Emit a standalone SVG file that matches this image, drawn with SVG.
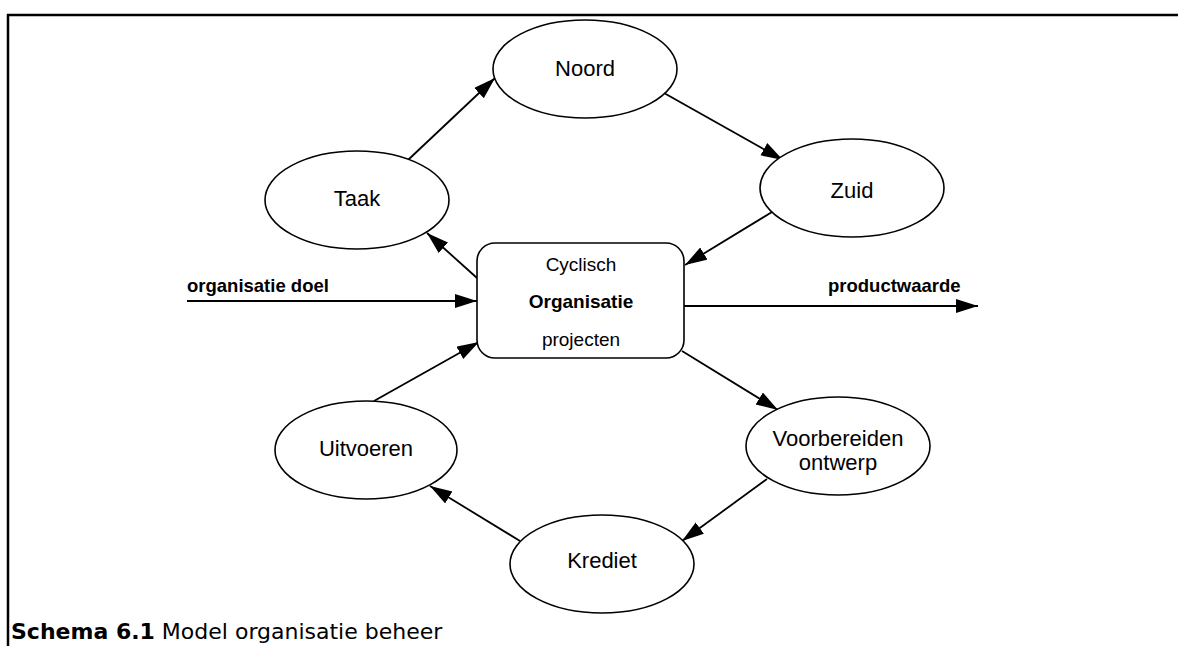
<svg xmlns="http://www.w3.org/2000/svg" width="1178" height="646" viewBox="0 0 1178 646">
<style>
.n{fill:#fff;stroke:#000;stroke-width:1.6}
.t{font-family:"Liberation Sans",Arial,sans-serif;font-size:22px;fill:#000;text-anchor:middle}
.b{font-family:"Liberation Sans",Arial,sans-serif;font-size:19px;fill:#000;text-anchor:middle}
.lbl{font-family:"Liberation Sans",Arial,sans-serif;font-size:18.5px;font-weight:bold;fill:#000}
.c{stroke:#000;stroke-width:1.8;fill:none;marker-end:url(#ah)}
.cap{font-family:"DejaVu Sans","Liberation Sans",sans-serif;font-size:22px;fill:#000}
</style>
<defs>
<marker id="ah" markerUnits="userSpaceOnUse" markerWidth="24" markerHeight="16" refX="22" refY="7" orient="auto">
<path d="M0,0 L22,7 L0,14 z" fill="#000"/>
</marker>
</defs>
<rect width="1178" height="646" fill="#fff"/>
<g id="frame">
<line x1="7" y1="15" x2="1178" y2="15" stroke="#000" stroke-width="2.5"/>
<line x1="8" y1="14" x2="8" y2="646" stroke="#000" stroke-width="2.5"/>
</g>
<g id="connectors">
<line class="c" x1="408" y1="160" x2="495" y2="78"/>
<line class="c" x1="664" y1="93" x2="783" y2="160"/>
<line class="c" x1="772" y1="212" x2="685" y2="265"/>
<line class="c" x1="477" y1="278" x2="427" y2="233"/>
<line class="c" x1="187" y1="301" x2="477" y2="301"/>
<line class="c" x1="684" y1="306" x2="978" y2="306"/>
<line class="c" x1="682" y1="351" x2="778" y2="410"/>
<line class="c" x1="767" y1="479" x2="682" y2="541"/>
<line class="c" x1="520" y1="541" x2="430" y2="486"/>
<line class="c" x1="374" y1="401" x2="479" y2="342"/>
</g>
<g id="noord"><ellipse class="n" cx="585" cy="69" rx="92" ry="49"/><text class="t" x="585" y="76">Noord</text></g>
<g id="taak"><ellipse class="n" cx="357" cy="200" rx="92" ry="49"/><text class="t" x="357" y="206">Taak</text></g>
<g id="zuid"><ellipse class="n" cx="852" cy="188" rx="92" ry="49"/><text class="t" x="852" y="198">Zuid</text></g>
<g id="organisatie"><rect class="n" x="477" y="243" width="207" height="115" rx="18" ry="18"/>
<text class="b" x="581" y="271">Cyclisch</text>
<text class="b" x="581" y="308" font-weight="bold">Organisatie</text>
<text class="b" x="581" y="346">projecten</text></g>
<g id="voorbereiden"><ellipse class="n" cx="838" cy="446" rx="92" ry="49"/><text class="t" x="838" y="446">Voorbereiden</text><text class="t" x="838" y="470">ontwerp</text></g>
<g id="krediet"><ellipse class="n" cx="602" cy="564" rx="92" ry="49"/><text class="t" x="602" y="568">Krediet</text></g>
<g id="uitvoeren"><ellipse class="n" cx="366" cy="450" rx="91" ry="49"/><text class="t" x="366" y="456">Uitvoeren</text></g>
<g id="labels">
<text class="lbl" x="187" y="292">organisatie doel</text>
<text class="lbl" x="828" y="292">productwaarde</text>
</g>
<text class="cap" x="11" y="639"><tspan font-weight="bold">Schema 6.1</tspan> Model organisatie beheer</text>
</svg>
